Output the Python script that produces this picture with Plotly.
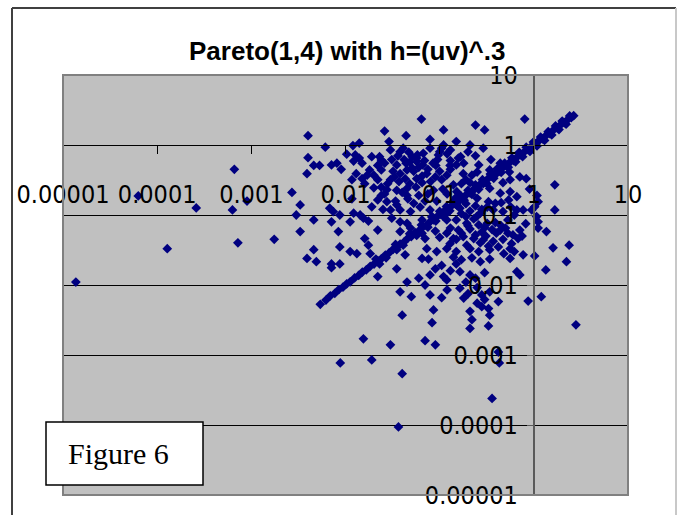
import plotly.graph_objects as go

# ---------------- data ----------------
title_text = "Pareto(1,4) with h=(uv)^.3"
tick_vals = [0.00001, 0.0001, 0.001, 0.01, 0.1, 1, 10]
tick_labels = ["0.00001", "0.0001", "0.001", "0.01", "0.1", "1", "10"]
box_label = "Figure 6"

# scattered points (u, h)
u_pts = [
    0.064, 0.80, 0.24, 0.026, 0.11, 0.30, 0.0040, 0.044, 0.079, 0.15,
    0.029, 0.21, 0.11, 0.0061, 0.012, 0.014, 0.041, 0.079, 0.29, 0.030,
    0.105, 0.0103, 0.0127, 0.038, 0.047, 0.067, 0.097, 0.051, 0.058, 0.0040,
    0.014, 0.019, 0.023, 0.057, 0.167, 0.158, 0.35, 0.024, 0.0122, 0.0046,
    0.0053, 0.0071, 0.0081, 0.035, 0.044, 0.066, 0.091, 0.129, 0.26, 0.44,
    0.057, 0.022, 0.0039, 0.013, 0.017, 0.020, 0.024, 0.032, 0.038, 0.045,
    0.051, 0.073, 0.100, 0.119, 0.178, 0.22, 0.25, 0.34, 0.40, 0.55,
    0.83, 0.022, 0.0117, 0.015, 0.016, 0.030, 0.037, 0.057, 0.065, 0.105,
    0.14, 0.21, 0.29, 0.47, 0.56, 0.71, 1.67, 0.0027, 0.024, 0.020,
    0.0275, 0.035, 0.045, 0.056, 0.086, 0.108, 0.152, 0.22, 0.34, 0.44,
    0.56, 1.08, 0.90, 0.024, 0.045, 0.0033, 0.0068, 0.0117, 0.022, 0.0275,
    0.019, 0.034, 0.053, 0.070, 0.093, 0.164, 0.25, 0.33, 0.39, 0.66,
    0.54, 1.11, 1.02, 0.0030, 0.0074, 0.0087, 0.0122, 0.0143, 0.030, 0.038,
    0.049, 0.079, 0.119, 0.164, 0.21, 0.27, 0.37, 0.47, 0.66, 0.77,
    0.95, 1.67, 0.0046, 0.0071, 0.0112, 0.0155, 0.0175, 0.031, 0.038, 0.045,
    0.065, 0.083, 0.119, 0.150, 0.194, 0.247, 0.32, 0.39, 0.53, 1.07,
    1.11, 0.0033, 0.0084, 0.022, 0.038, 0.065, 0.090, 0.119, 0.158, 0.21,
    0.28, 0.44, 0.53, 0.71, 1.11, 1.36, 0.049, 0.0087, 0.016, 0.070,
    0.100, 0.14, 0.178, 0.23, 0.29, 0.37, 0.47, 0.58, 0.68, 0.129,
    0.194, 0.0046, 0.0112, 0.0132, 0.0175, 0.0183, 0.035, 0.043, 0.073, 0.093,
    0.119, 0.150, 0.21, 0.26, 0.34, 0.56, 0.77, 1.02, 1.60, 2.37,
    0.0039, 0.0049, 0.0071, 0.0087, 0.023, 0.035, 0.065, 0.076, 0.105, 0.14,
    0.17, 0.22, 0.27, 0.34, 0.56, 1.34, 2.22, 0.0071, 0.022, 0.079,
    0.11, 0.119, 0.164, 0.21, 0.66, 0.71, 0.038, 0.070, 0.164, 0.25,
    0.28, 0.34, 0.079, 0.105, 0.18, 1.20, 0.25, 0.28, 0.33, 0.42,
    0.87, 0.086, 0.21, 0.34, 0.040, 0.083, 0.22, 0.21, 0.33, 2.8,
    0.0155, 0.030, 0.070, 0.090, 0.42, 0.00066, 0.00090, 0.00063, 0.00026, 0.000063,
    0.000128, 0.00072, 0.00175, 0.0000137, 0.019, 0.0088, 0.040, 0.43, 0.36, 0.0365,
]
h_pts = [
    2.35, 2.35, 1.93, 1.58, 1.64, 1.64, 1.36, 1.36, 1.2, 1.12,
    1.12, 1.0, 1.0, 0.93, 0.98, 1.06, 0.90, 0.90, 0.90, 0.85,
    0.90, 0.74, 0.72, 0.80, 0.79, 0.76, 0.72, 0.68, 0.72, 0.66,
    0.65, 0.68, 0.68, 0.65, 0.68, 0.65, 0.62, 0.61, 0.59, 0.51,
    0.51, 0.52, 0.55, 0.52, 0.55, 0.52, 0.51, 0.51, 0.52, 0.55,
    0.58, 0.51, 0.39, 0.39, 0.37, 0.37, 0.44, 0.42, 0.39, 0.44,
    0.47, 0.39, 0.42, 0.37, 0.39, 0.37, 0.41, 0.44, 0.39, 0.41,
    0.33, 0.32, 0.32, 0.33, 0.28, 0.32, 0.30, 0.33, 0.29, 0.32,
    0.27, 0.29, 0.28, 0.29, 0.32, 0.35, 0.27, 0.21, 0.25, 0.245,
    0.23, 0.225, 0.24, 0.25, 0.225, 0.235, 0.215, 0.215, 0.24, 0.205,
    0.215, 0.19, 0.235, 0.19, 0.19, 0.139, 0.125, 0.17, 0.164, 0.155,
    0.131, 0.158, 0.147, 0.158, 0.158, 0.164, 0.173, 0.155, 0.147, 0.183,
    0.164, 0.155, 0.131, 0.100, 0.112, 0.100, 0.106, 0.100, 0.118, 0.118,
    0.112, 0.118, 0.106, 0.125, 0.114, 0.106, 0.118, 0.112, 0.118, 0.118,
    0.118, 0.118, 0.085, 0.080, 0.080, 0.090, 0.082, 0.090, 0.080, 0.076,
    0.085, 0.095, 0.085, 0.085, 0.076, 0.095, 0.076, 0.078, 0.085, 0.095,
    0.080, 0.058, 0.058, 0.061, 0.058, 0.055, 0.059, 0.055, 0.061, 0.063,
    0.057, 0.061, 0.055, 0.061, 0.065, 0.058, 0.065, 0.035, 0.046, 0.046,
    0.048, 0.046, 0.049, 0.046, 0.044, 0.042, 0.045, 0.039, 0.046, 0.039,
    0.037, 0.032, 0.030, 0.028, 0.037, 0.028, 0.032, 0.027, 0.033, 0.030,
    0.033, 0.030, 0.033, 0.030, 0.032, 0.033, 0.027, 0.026, 0.034, 0.037,
    0.024, 0.0215, 0.020, 0.020, 0.020, 0.017, 0.024, 0.0235, 0.019, 0.025,
    0.023, 0.0245, 0.0215, 0.0235, 0.024, 0.0164, 0.0215, 0.0177, 0.0132, 0.0139,
    0.0132, 0.0118, 0.0155, 0.0139, 0.0155, 0.0139, 0.0080, 0.0100, 0.0090, 0.0092,
    0.0072, 0.0080, 0.0072, 0.0066, 0.0065, 0.0068, 0.0055, 0.0049, 0.0046, 0.0058,
    0.0059, 0.0044, 0.0042, 0.0037, 0.0037, 0.0029, 0.0032, 0.0024, 0.0026, 0.0027,
    0.0017, 0.0014, 0.0016, 0.0014, 0.0011, 0.45, 0.158, 0.118, 0.126, 0.187,
    0.033, 0.040, 0.045, 0.011, 0.00085, 0.00077, 0.00054, 0.00077, 0.00024, 0.000094,
]

# further points in the densest part of the cloud
u_more = [
    0.17, 0.19, 0.23, 0.26, 0.30, 0.20, 0.24, 0.31, 0.36, 0.40,
    0.45, 0.50, 0.17, 0.13, 0.15, 0.27, 0.33, 0.42, 0.48, 0.62,
    0.60, 0.75, 0.82, 0.62, 0.57, 0.45, 0.32, 0.28, 0.24, 0.19,
    0.026, 0.031, 0.036, 0.042, 0.048, 0.053, 0.060, 0.069, 0.075, 0.085,
    0.095, 0.10, 0.12, 0.13, 0.065, 0.080, 0.090, 0.043, 0.048, 0.028,
    0.033, 0.018, 0.015, 0.009, 0.026, 0.040, 0.060, 0.075, 0.062, 0.035,
    0.025, 0.046, 0.13, 0.15, 0.18, 0.20, 0.24, 0.13, 0.17, 0.19,
    0.12, 0.15, 0.09, 0.13, 0.15, 0.19, 0.24, 0.30, 0.12, 0.20,
    0.30, 0.045, 0.060, 0.050,
]
h_more = [
    0.105, 0.095, 0.088, 0.072, 0.066, 0.070, 0.052, 0.050, 0.062, 0.055,
    0.070, 0.065, 0.055, 0.065, 0.045, 0.040, 0.036, 0.035, 0.028, 0.030,
    0.052, 0.050, 0.075, 0.100, 0.130, 0.150, 0.130, 0.120, 0.135, 0.145,
    0.55, 0.62, 0.70, 0.62, 0.57, 0.42, 0.48, 0.60, 0.45, 0.55,
    0.62, 0.80, 0.75, 0.60, 0.36, 0.30, 0.35, 0.33, 0.28, 0.28,
    0.35, 0.44, 0.55, 0.45, 0.20, 0.21, 0.19, 0.20, 0.13, 0.14,
    0.12, 0.17, 0.45, 0.52, 0.55, 0.80, 0.70, 0.85, 0.28, 0.32,
    0.20, 0.18, 0.017, 0.016, 0.020, 0.011, 0.0125, 0.015, 0.0085, 0.0075,
    0.0062, 0.011, 0.0125, 0.0068,
]

# points lying on the diagonal band
diag_u = [
    0.0054, 0.0062, 0.0069, 0.0077, 0.0085, 0.0094, 0.0103, 0.0112, 0.0125, 0.0138,
    0.0151, 0.0166, 0.0183, 0.0201, 0.022, 0.024, 0.0265, 0.029, 0.032, 0.035,
    0.038, 0.042, 0.046, 0.05, 0.055, 0.06, 0.066, 0.072, 0.079, 0.086,
    0.094, 0.103, 0.112, 0.122, 0.134, 0.146, 0.16, 0.175, 0.19, 0.21,
    0.23, 0.25, 0.27, 0.3, 0.33, 0.36, 0.39, 0.43, 0.47, 0.51,
    0.56, 0.61, 0.67, 0.73, 0.8, 0.87, 0.95, 1.04, 1.13, 1.24,
    1.35, 1.48, 1.62, 1.77, 1.93, 2.1, 2.3, 2.5, 2.65,
]
diag_h = [
    0.0053, 0.0061, 0.0070, 0.0076, 0.0086, 0.0093, 0.0104, 0.0111, 0.0126, 0.0137,
    0.0153, 0.0164, 0.0185, 0.0199, 0.0223, 0.0237, 0.0268, 0.0287, 0.0324, 0.0346,
    0.0385, 0.0414, 0.0467, 0.0493, 0.0558, 0.0592, 0.067, 0.071, 0.080, 0.085,
    0.095, 0.102, 0.114, 0.120, 0.136, 0.144, 0.163, 0.172, 0.193, 0.207,
    0.234, 0.246, 0.275, 0.296, 0.336, 0.355, 0.397, 0.424, 0.478, 0.503,
    0.57, 0.60, 0.68, 0.72, 0.81, 0.86, 0.97, 1.03, 1.15, 1.22,
    1.37, 1.46, 1.64, 1.75, 1.95, 2.08, 2.32, 2.47, 2.62,
]
band_u = [
    0.021, 0.027, 0.034, 0.041, 0.048, 0.057, 0.064, 0.075, 0.083, 0.091,
    0.1, 0.108, 0.118, 0.128, 0.14, 0.153, 0.168, 0.182, 0.2, 0.22,
    0.24, 0.26, 0.285, 0.315, 0.345, 0.375, 0.41, 0.45, 0.49, 0.535,
    0.585, 0.64, 0.7, 0.76, 0.83, 0.91, 0.99, 1.08, 1.18, 1.3,
    1.42, 1.55, 1.7, 1.85, 2.0, 2.2, 2.4,
]
band_h = [
    0.0235, 0.0245, 0.038, 0.037, 0.054, 0.051, 0.072, 0.067, 0.093, 0.082,
    0.113, 0.097, 0.132, 0.115, 0.157, 0.137, 0.188, 0.163, 0.225, 0.197,
    0.27, 0.233, 0.32, 0.282, 0.385, 0.335, 0.46, 0.405, 0.55, 0.48,
    0.655, 0.575, 0.785, 0.68, 0.93, 0.81, 1.1, 0.97, 1.3, 1.16,
    1.55, 1.39, 1.87, 1.66, 2.2, 1.98, 2.6,
]
assert len(u_pts) == len(h_pts)
assert len(u_more) == len(h_more)
assert len(diag_u) == len(diag_h)
assert len(band_u) == len(band_h)

# ---------------- layout geometry (pixels) ----------------
W, H = 677, 515
L, R, T, B = 63, 628, 75, 495          # plot area edges
pw, ph = R - L, B - T


def px(x):
    return (x - L) / pw


def py(y):
    return (B - y) / ph


NAVY = "#000080"
TICK_FONT = dict(family="Liberation Sans Narrow, Arial Narrow, DejaVu Sans Condensed, sans-serif",
                 size=25, color="black")

marker = dict(symbol="diamond", size=7.5, color=NAVY, line=dict(width=0))

fig = go.Figure()
for xs, ys in ((u_pts, h_pts), (u_more, h_more), (diag_u, diag_h), (band_u, band_h)):
    fig.add_trace(go.Scatter(x=xs, y=ys, mode="markers", marker=marker,
                             showlegend=False, hoverinfo="x+y"))

fig.update_layout(
    width=W, height=H,
    margin=dict(l=L, r=W - R, t=T, b=H - B, pad=0),
    paper_bgcolor="white",
    plot_bgcolor="#C0C0C0",
    showlegend=False,
    xaxis=dict(
        type="log", range=[-5, 1], anchor="free", position=5 / 6, automargin=False,
        showgrid=False, zeroline=False,
        showline=True, linecolor="black", linewidth=1,
        ticks="outside", ticklen=8, tickcolor="black", tickwidth=1,
        tickvals=tick_vals, ticktext=tick_labels, tickfont=TICK_FONT,
        ticklabelstandoff=19,
    ),
    yaxis=dict(
        type="log", range=[-5, 1], anchor="free", position=5 / 6, automargin=False,
        showgrid=True, gridcolor="black", gridwidth=1, zeroline=False,
        showline=True, linecolor="#5a5a5a", linewidth=2,
        ticks="outside", ticklen=6, tickcolor="#5a5a5a", tickwidth=1,
        tickvals=tick_vals, ticktext=tick_labels, tickfont=TICK_FONT,
        ticklabelstandoff=4,
    ),
)

shapes = [
    # plot-area border
    dict(type="rect", xref="paper", yref="paper", x0=0, x1=1, y0=0, y1=1,
         line=dict(color="#808080", width=2), layer="above"),
    # outer chart frame
    dict(type="line", xref="paper", yref="paper", x0=px(12), x1=px(12), y0=py(8), y1=py(520),
         line=dict(color="#404040", width=2)),
    dict(type="line", xref="paper", yref="paper", x0=px(12), x1=px(676), y0=py(8), y1=py(8),
         line=dict(color="#404040", width=2)),
    dict(type="line", xref="paper", yref="paper", x0=px(676), x1=px(676), y0=py(8), y1=py(520),
         line=dict(color="#c8c8c8", width=2)),
    # "Figure 6" box
    dict(type="rect", xref="paper", yref="paper", x0=px(46), x1=px(203), y0=py(485), y1=py(422),
         fillcolor="white", line=dict(color="black", width=1.5), layer="above"),
]
fig.update_layout(shapes=shapes)

fig.add_annotation(text="<b>" + title_text + "</b>", xref="paper", yref="paper",
                   x=px(347), y=py(51), xanchor="center", yanchor="middle", showarrow=False,
                   font=dict(family="Liberation Sans, Arial, sans-serif", size=26, color="black"))
fig.add_annotation(text=box_label, xref="paper", yref="paper",
                   x=px(66), y=py(453), xanchor="left", yanchor="middle", showarrow=False,
                   font=dict(family="Liberation Serif, Times New Roman, serif", size=30, color="black"))

fig.write_html("out.html", config={"displayModeBar": False},
               post_script="document.body.style.margin='0';document.body.style.overflow='hidden';")
